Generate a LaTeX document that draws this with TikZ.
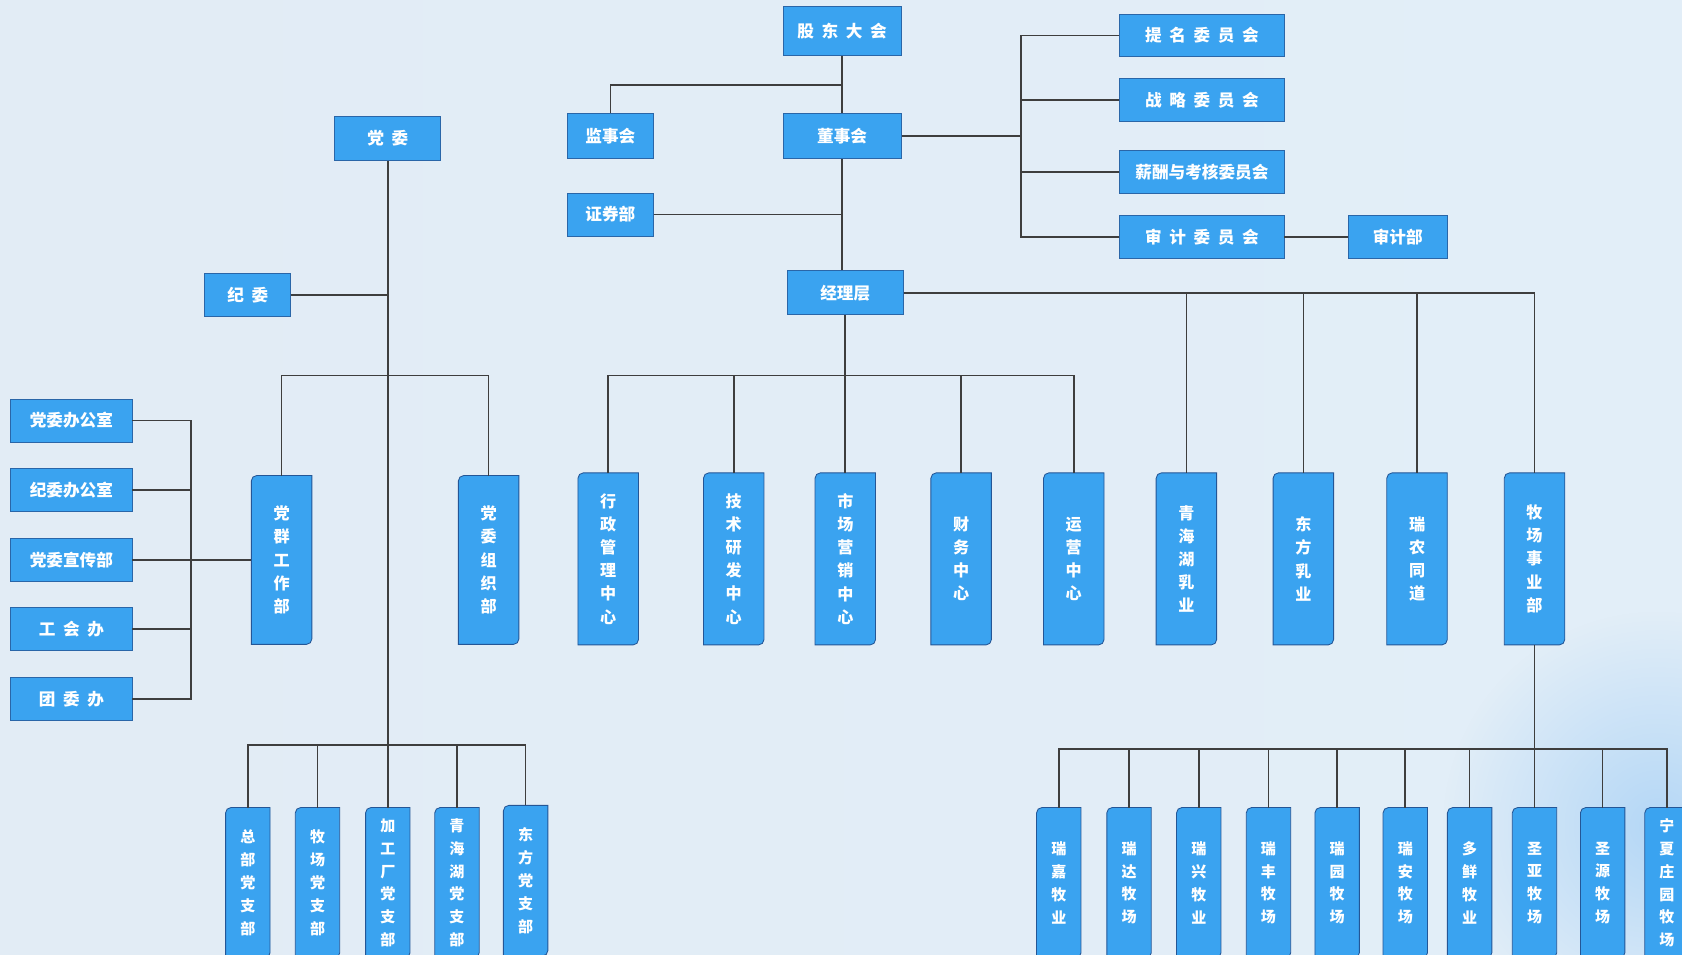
\documentclass[tikz,border=0pt]{standalone}
\usepackage{fontspec}
\newfontfamily\cjk{Noto Sans CJK SC}[WordSpace=2]
\usetikzlibrary{backgrounds,fadings}
\definecolor{boxblue}{RGB}{58,163,240}
\definecolor{boxedge}{RGB}{42,102,168}
\definecolor{tabedge}{RGB}{36,86,150}
\definecolor{linegray}{RGB}{62,62,62}
\definecolor{bgleft}{RGB}{226,236,245}
\definecolor{bgmid}{RGB}{238,245,250}
\definecolor{bgright}{RGB}{226,238,248}
\definecolor{glowblue}{RGB}{180,215,246}
\tikzfading[name=glowfade, inner color=transparent!0, outer color=transparent!100]
\tikzset{
  hbox/.style={draw=boxedge, fill=boxblue, line width=0.8pt, text=white, inner sep=0pt,
               font=\cjk\bfseries\fontsize{15.5}{18}\selectfont},
  vbox/.style={text=white, inner sep=0pt, align=center, minimum width=56pt, minimum height=160pt,
               font=\cjk\bfseries\fontsize{15}{21.6}\selectfont},
  sbox/.style={vbox, minimum width=41pt, minimum height=140pt,
               font=\cjk\bfseries\fontsize{14}{21.3}\selectfont},
  link/.style={draw=linegray, line width=1.5pt},
  tabline/.style={draw=tabedge, fill=boxblue, line width=0.8pt}
}
\newcommand\tabbox[1]{%
  \path[tabline] ([xshift=5pt]#1.north west) -- (#1.north east) -- ([yshift=5pt]#1.south east)
    arc[start angle=0, end angle=-90, radius=5pt] -- (#1.south west) -- ([yshift=-5pt]#1.north west)
    arc[start angle=180, end angle=90, radius=5pt] -- cycle;}

\begin{document}
\begin{tikzpicture}[x=1pt,y=-1pt]
  \useasboundingbox (0,0) rectangle (1568,890);
  % Shareholders and board
  \node[hbox, minimum width=110pt, minimum height=46pt] (gddh) at (785,29)    {股 东 大 会};
  \node[hbox, minimum width=80pt,  minimum height=42pt] (jsh)  at (569,127)   {监事会};
  \node[hbox, minimum width=110pt, minimum height=42pt] (dsh)  at (785,127)   {董事会};
  \node[hbox, minimum width=80pt,  minimum height=40pt] (zqb)  at (569,200)   {证券部};
  \node[hbox, minimum width=108pt, minimum height=41pt] (jlc)  at (788,273)   {经理层};
  % Committees
  \node[hbox, minimum width=153pt, minimum height=40pt] (tmwyh) at (1120.5,33)  {提 名 委 员 会};
  \node[hbox, minimum width=153pt, minimum height=40pt] (zlwyh) at (1120.5,93)  {战 略 委 员 会};
  \node[hbox, minimum width=153pt, minimum height=40pt] (xcwyh) at (1120.5,160.5) {薪酬与考核委员会};
  \node[hbox, minimum width=153pt, minimum height=40pt] (sjwyh) at (1120.5,221) {审 计 委 员 会};
  \node[hbox, minimum width=92pt,  minimum height=40pt] (sjb)   at (1303,221)   {审计部};
  % Party committee
  \node[hbox, minimum width=99pt,  minimum height=41pt] (dw)  at (361.5,129) {党 委};
  \node[hbox, minimum width=80pt,  minimum height=40pt] (jw)  at (231,275)   {纪 委};
  \node[hbox, minimum width=113pt, minimum height=40pt] (dwbgs) at (66.5,392)   {党委办公室};
  \node[hbox, minimum width=113pt, minimum height=40pt] (jwbgs) at (66.5,457)   {纪委办公室};
  \node[hbox, minimum width=113pt, minimum height=40pt] (dwxcb) at (66.5,522)   {党委宣传部};
  \node[hbox, minimum width=113pt, minimum height=40pt] (ghb)   at (66.5,586.5) {工 会 办};
  \node[hbox, minimum width=113pt, minimum height=40pt] (twb)   at (66.5,651.5) {团 委 办};
  \node[vbox, minimum height=157pt] (dqgz) at (262.5,522) {党\\群\\工\\作\\部};
  \node[vbox, minimum height=157pt] (dwzz) at (455.5,522) {党\\委\\组\\织\\部};
  % Centres
  \node[vbox] (xzgl) at (567,521)  {行\\政\\管\\理\\中\\心};
  \node[vbox] (jsyf) at (684,521)  {技\\术\\研\\发\\中\\心};
  \node[vbox] (sczx) at (788,521)  {市\\场\\营\\销\\中\\心};
  \node[vbox] (cwzx) at (896,521)  {财\\务\\中\\心};
  \node[vbox] (yyzx) at (1001,521) {运\\营\\中\\心};
  \node[vbox] (qhhry) at (1106,521)  {青\\海\\湖\\乳\\业};
  \node[vbox] (dfry)  at (1215,521)  {东\\方\\乳\\业};
  \node[vbox] (rntd)  at (1321,521)  {瑞\\农\\同\\道};
  \node[vbox] (mcsyb) at (1430.5,521) {牧\\场\\事\\业\\部};
  % Party branches
  \node[sbox] (zbdzb)  at (231,823)   {总\\部\\党\\支\\部};
  \node[sbox] (mcdzb)  at (296,823)   {牧\\场\\党\\支\\部};
  \node[sbox] (jgcdzb) at (361.5,823) {加\\工\\厂\\党\\支\\部};
  \node[sbox] (qhhdzb) at (426,823)   {青\\海\\湖\\党\\支\\部};
  \node[sbox] (dfdzb)  at (490,821)   {东\\方\\党\\支\\部};
  % Ranches
  \node[sbox] (rjmy)  at (987,823)    {瑞\\嘉\\牧\\业};
  \node[sbox] (rdmc)  at (1052.5,823) {瑞\\达\\牧\\场};
  \node[sbox] (rxmy)  at (1117.5,823) {瑞\\兴\\牧\\业};
  \node[sbox] (rfmc)  at (1182.5,823) {瑞\\丰\\牧\\场};
  \node[sbox] (rymc)  at (1246.5,823) {瑞\\园\\牧\\场};
  \node[sbox] (ramc)  at (1310,823)   {瑞\\安\\牧\\场};
  \node[sbox] (dxmy)  at (1370,823)   {多\\鲜\\牧\\业};
  \node[sbox] (symc)  at (1430.5,823) {圣\\亚\\牧\\场};
  \node[sbox] (sydmc) at (1494,823)   {圣\\源\\牧\\场};
  \node[sbox] (nxmc)  at (1554,823)   {宁\\夏\\庄\\园\\牧\\场};

  % Board links
  \draw[link] (gddh.south) -- (dsh.north);
  \draw[link] (jsh.north) |- (785,79);
  \draw[link] (zqb.east) -- (zqb.east -| dsh.south);
  \draw[link] (dsh.south) -- (dsh.south |- jlc.north);
  \draw[link] (dsh.east) -- (952,127) coordinate (wyh);
  \foreach \n in {tmwyh,zlwyh,xcwyh,sjwyh}
    \draw[link] (\n.west) -| (wyh);
  \draw[link] (sjwyh.east) -- (sjb.west);
  % Manager links
  \draw[link] (jlc.east) -| (mcsyb.north);
  \foreach \n in {qhhry,dfry,rntd}
    \draw[link] (\n.north) |- (jlc.east);
  \draw[link] (jlc.south) -- (sczx.north);
  \coordinate (zxb) at (788,350);
  \foreach \n in {xzgl,jsyf,cwzx,yyzx}
    \draw[link] (\n.north) |- (zxb);
  % Party links
  \draw[link] (dw.south) -- (jgcdzb.north);
  \draw[link] (jw.east) -- (jw.east -| dw.south);
  \coordinate (dwm) at (361.5,350);
  \draw[link] (dqgz.north) |- (dwm);
  \draw[link] (dwzz.north) |- (dwm);
  \coordinate (dwl) at (178,522);
  \foreach \n in {dwbgs,jwbgs,dwxcb,ghb,twb}
    \draw[link] (\n.east) -| (dwl);
  \draw[link] (dwl) -- (dqgz.west);
  \coordinate (zbb) at (361.5,694.5);
  \foreach \n in {zbdzb,mcdzb,qhhdzb,dfdzb}
    \draw[link] (\n.north) |- (zbb);
  % Ranch links
  \draw[link] (mcsyb.south) -- (symc.north);
  \coordinate (mcb) at (1430.5,698);
  \foreach \n in {rjmy,rdmc,rxmy,rfmc,rymc,ramc,dxmy,sydmc,nxmc}
    \draw[link] (\n.north) |- (mcb);

  % Backdrop and tab shapes
  \begin{scope}[on background layer]
    \shade[left color=bgleft, middle color=bgmid, right color=bgright] (0,0) rectangle (1568,890);
    \fill[glowblue, path fading=glowfade] (1545,770) circle (200);
    \foreach \n in {dqgz,dwzz,xzgl,jsyf,sczx,cwzx,yyzx,qhhry,dfry,rntd,mcsyb,
                    zbdzb,mcdzb,jgcdzb,qhhdzb,dfdzb,
                    rjmy,rdmc,rxmy,rfmc,rymc,ramc,dxmy,symc,sydmc,nxmc}
      \tabbox{\n};
  \end{scope}
\end{tikzpicture}
\end{document}
